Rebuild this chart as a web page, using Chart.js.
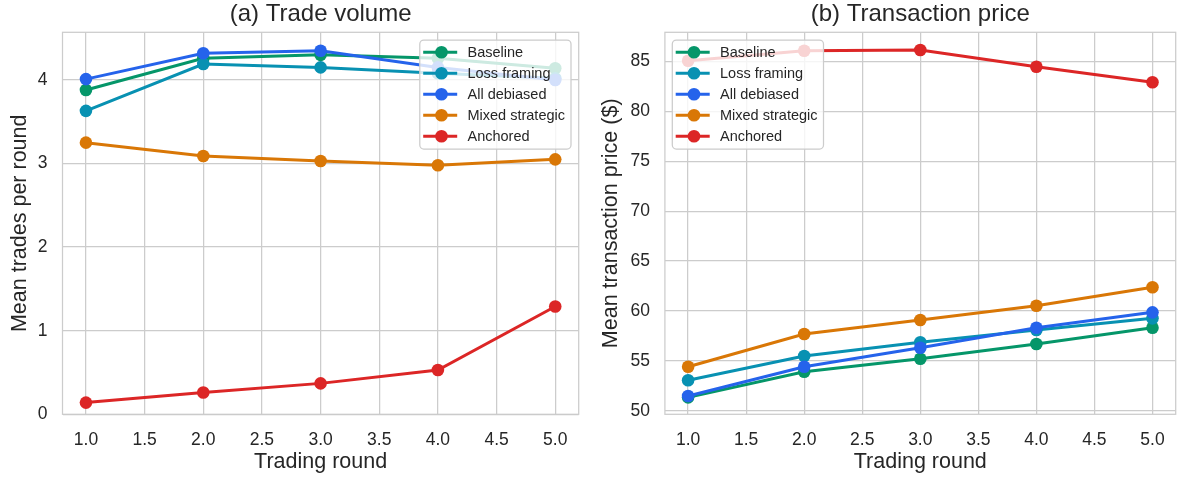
<!doctype html>
<html>
<head>
<meta charset="utf-8">
<title>trade volume and price</title>
<script src="https://cdn.jsdelivr.net/npm/chart.js"></script>
<style>
body {margin: 0; background: #fff}
#wrap {position: relative; width: 1182px; height: 477px}
canvas {position: absolute; top: 0}
</style>
</head>
<body>
<div id="wrap">
<canvas id="volume" width="591" height="477" style="left:0"></canvas>
<canvas id="price" width="591" height="477" style="left:591px"></canvas>
</div>
<script>
let rounds = [1, 2, 3, 4, 5]
let names = ['Baseline', 'Loss framing', 'All debiased', 'Mixed strategic', 'Anchored']
let colors = ['#059669', '#0891b2', '#2563eb', '#d97706', '#dc2626']

// (a) mean trades per round
let volumeBaseline = [3.88, 4.26, 4.30, 4.26, 4.14]
let volumeLoss = [3.63, 4.19, 4.15, 4.08, 4.02]
let volumeDebiased = [4.01, 4.32, 4.35, 4.15, 4.00]
let volumeMixed = [3.25, 3.09, 3.03, 2.98, 3.05]
let volumeAnchored = [0.14, 0.26, 0.37, 0.53, 1.29]

// (b) mean transaction price ($)
let priceBaseline = [51.34, 53.91, 55.21, 56.69, 58.32]
let priceLoss = [53.05, 55.48, 56.86, 58.09, 59.26]
let priceDebiased = [51.47, 54.41, 56.31, 58.32, 59.86]
let priceMixed = [54.41, 57.69, 59.09, 60.52, 62.37]
let priceAnchored = [85.08, 86.08, 86.15, 84.48, 82.92]

let roundTicks = [1.0, 1.5, 2.0, 2.5, 3.0, 3.5, 4.0, 4.5, 5.0]
let volumeTicks = [0, 1, 2, 3, 4]
let priceTicks = [50, 55, 60, 65, 70, 75, 80, 85]

let grey = '#cccccc'
let ink = '#262626'
let family = "'Liberation Sans', Arial, sans-serif"
Chart.defaults.font.family = family

function datasets(series) {
    return series.map(function (values, i) {
        return {
            label: names[i],
            data: rounds.map(function (r, j) { return {x: r, y: values[j]} }),
            borderColor: colors[i],
            backgroundColor: colors[i],
            borderWidth: 3,
            pointRadius: 6.3,
            pointBorderWidth: 0,
            pointBackgroundColor: colors[i],
            tension: 0,
            order: series.length - i
        }
    })
}

function frame(title, legendSide) {
    return {
        id: 'frame',
        beforeDatasetsDraw: function (chart) {
            let a = chart.chartArea
            let ctx = chart.ctx
            ctx.save()
            ctx.strokeStyle = grey
            ctx.lineWidth = 1.25
            ctx.strokeRect(a.left, a.top, a.right - a.left, a.bottom - a.top)
            ctx.restore()
        },
        afterDatasetsDraw: function (chart) {
            let a = chart.chartArea
            let ctx = chart.ctx
            ctx.save()
            ctx.font = '14.5px ' + family
            let widest = Math.max(...names.map(function (n) { return ctx.measureText(n).width }))
            let w = 47.7 + widest + 6
            let h = 109
            let x = legendSide === 'right' ? a.right - 7.7 - w : a.left + 7.4
            let y = 40
            ctx.beginPath()
            ctx.roundRect(x, y, w, h, 4)
            ctx.fillStyle = 'rgba(255,255,255,0.8)'
            ctx.fill()
            ctx.strokeStyle = grey
            ctx.lineWidth = 1.25
            ctx.stroke()
            chart.data.datasets.forEach(function (ds, i) {
                let ry = y + 12.3 + i * 21
                ctx.strokeStyle = ds.borderColor
                ctx.lineWidth = 3
                ctx.beginPath()
                ctx.moveTo(x + 3.4, ry)
                ctx.lineTo(x + 37.4, ry)
                ctx.stroke()
                ctx.fillStyle = ds.borderColor
                ctx.beginPath()
                ctx.arc(x + 21.7, ry, 6.3, 0, Math.PI * 2)
                ctx.fill()
                ctx.fillStyle = ink
                ctx.textBaseline = 'middle'
                ctx.fillText(ds.label, x + 47.7, ry + 0.5)
            })
            ctx.restore()
        },
        afterDraw: function (chart) {
            let a = chart.chartArea
            let ctx = chart.ctx
            ctx.save()
            ctx.font = '24px ' + family
            ctx.fillStyle = ink
            ctx.textAlign = 'center'
            ctx.textBaseline = 'middle'
            ctx.fillText(title, (a.left + a.right) / 2, 14)
            ctx.restore()
        }
    }
}

function options(yMin, yMax, yTicks, yTitle, left, right) {
    return {
        responsive: false,
        animation: false,
        layout: {padding: {left: 0, right: right, top: 32.3, bottom: 0}},
        plugins: {legend: {display: false}, tooltip: {enabled: false}},
        scales: {
            x: {
                type: 'linear',
                min: 0.8,
                max: 5.2,
                afterBuildTicks: function (scale) {
                    scale.ticks = roundTicks.map(function (v) { return {value: v} })
                },
                afterFit: function (scale) { scale.height = 62.7 },
                grid: {color: grey, lineWidth: 1.25, drawTicks: false, tickLength: 0},
                border: {display: false},
                ticks: {
                    color: ink, font: {size: 17.5}, padding: 15, maxRotation: 0, autoSkip: false,
                    callback: function (v) { return v.toFixed(1) }
                },
                title: {display: true, text: 'Trading round', color: ink, font: {size: 21.5}, padding: {top: 0, bottom: 2.5}}
            },
            y: {
                type: 'linear',
                min: yMin,
                max: yMax,
                afterBuildTicks: function (scale) {
                    scale.ticks = yTicks.map(function (v) { return {value: v} })
                },
                afterFit: function (scale) { scale.width = left },
                grid: {color: grey, lineWidth: 1.25, drawTicks: false, tickLength: 0},
                border: {display: false},
                ticks: {color: ink, font: {size: 17.5}, padding: 15, autoSkip: false},
                title: {display: true, text: yTitle, color: ink, font: {size: 21.5}, padding: {top: 7, bottom: 0}}
            }
        }
    }
}

new Chart(document.getElementById('volume'), {
    type: 'line',
    data: {datasets: datasets([volumeBaseline, volumeLoss, volumeDebiased, volumeMixed, volumeAnchored])},
    options: options(0, 4.57, volumeTicks, 'Mean trades per round', 62.5, 12.3),
    plugins: [frame('(a) Trade volume', 'right')]
})

new Chart(document.getElementById('price'), {
    type: 'line',
    data: {datasets: datasets([priceBaseline, priceLoss, priceDebiased, priceMixed, priceAnchored])},
    options: options(49.64, 87.93, priceTicks, 'Mean transaction price ($)', 73.9, 1),
    plugins: [frame('(b) Transaction price', 'left')]
})
</script>
</body>
</html>
